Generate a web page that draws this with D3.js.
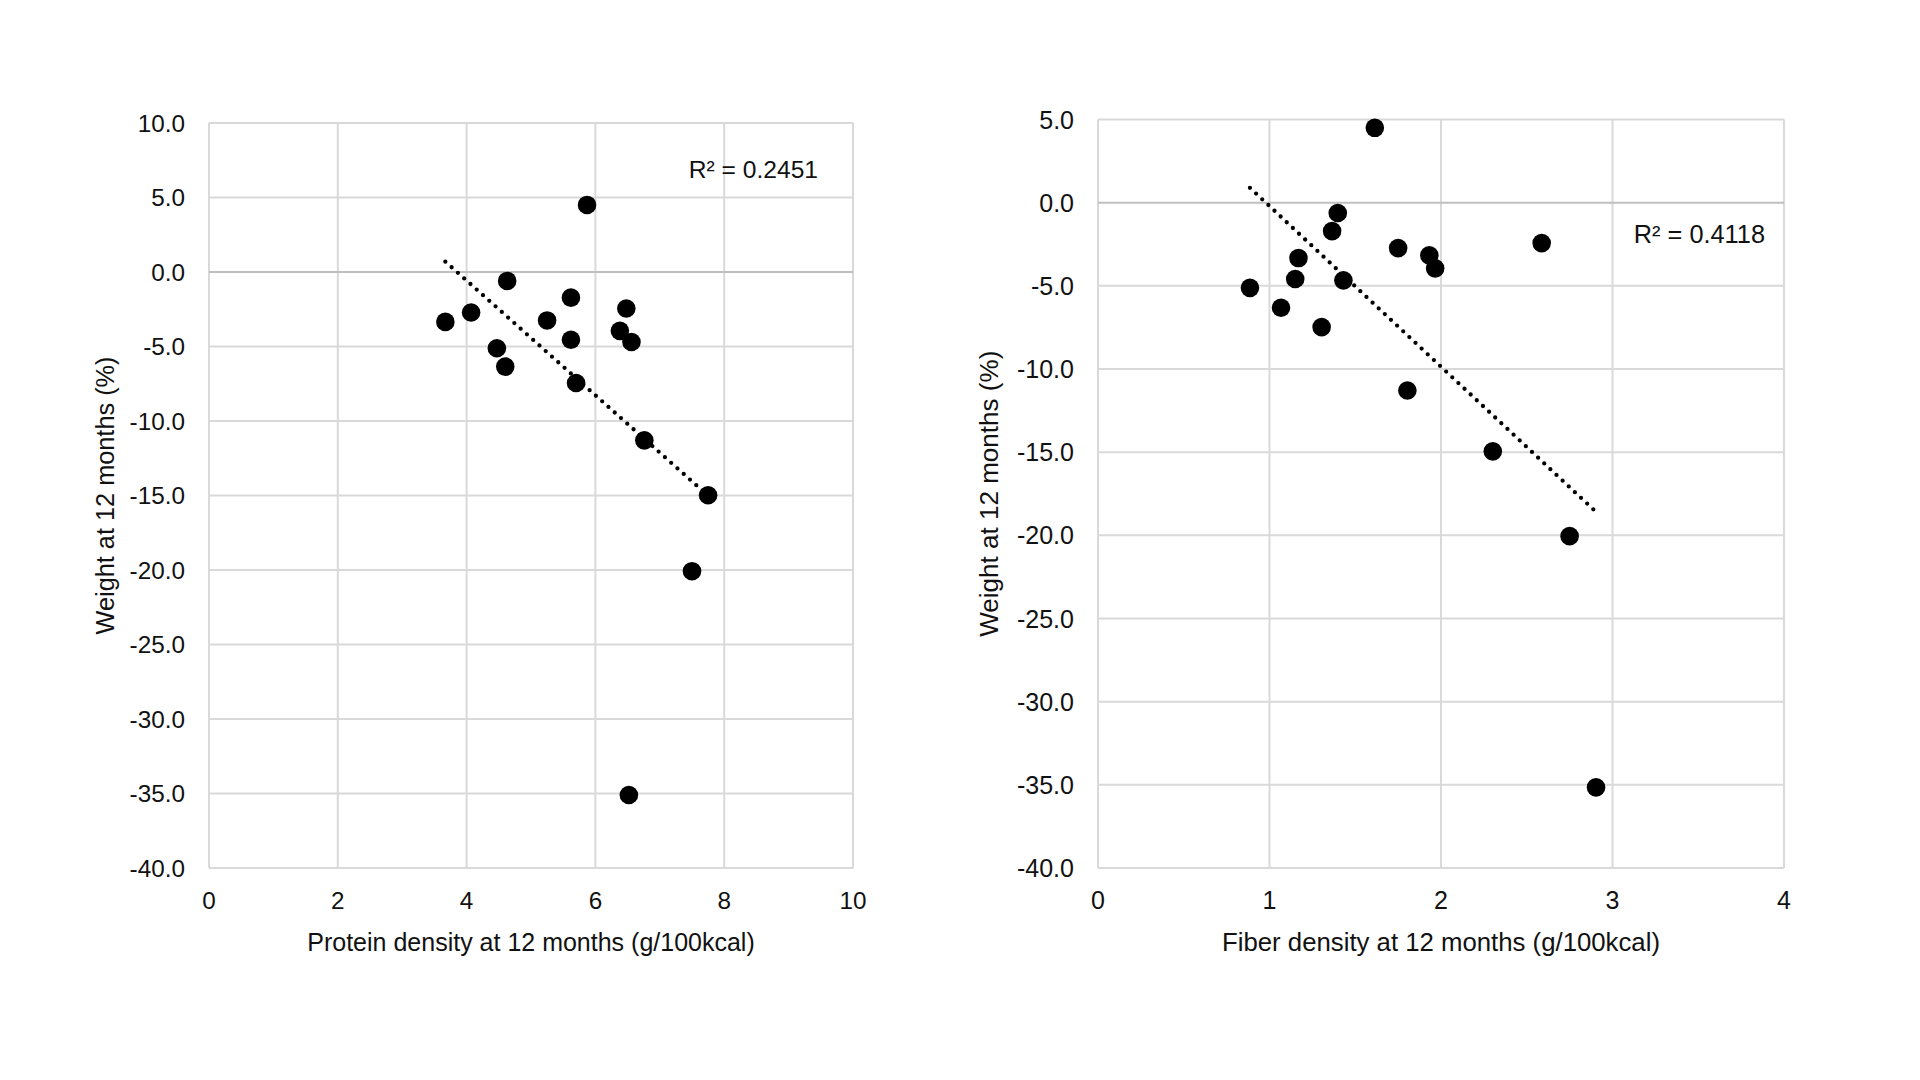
<!DOCTYPE html>
<html><head><meta charset="utf-8">
<script src="https://cdn.jsdelivr.net/npm/d3@7"></script>
<style>body{margin:0;background:#fff;overflow:hidden}</style>
</head><body><svg id="c" width="1920" height="1080"></svg>
<script>
// ---- data ----
const proteinX = [3.67, 4.07, 4.63, 4.47, 4.60, 5.25, 5.62, 5.62, 5.87, 5.70, 6.48, 6.38, 6.56, 6.76, 7.75, 7.50, 6.52];
const proteinY = [-3.35, -2.72, -0.60, -5.12, -6.35, -3.25, -1.72, -4.55, 4.50, -7.45, -2.45, -3.95, -4.70, -11.30, -14.98, -20.08, -35.10];
const fiberX = [0.886, 1.067, 1.150, 1.169, 1.304, 1.365, 1.398, 1.431, 1.614, 1.750, 1.804, 1.932, 1.966, 2.302, 2.587, 2.750, 2.904];
const fiberY = [-5.12, -6.32, -4.59, -3.33, -7.48, -1.71, -0.62, -4.67, 4.50, -2.73, -11.29, -3.17, -3.95, -14.95, -2.43, -20.05, -35.15];
const proteinXTicks = [0, 2, 4, 6, 8, 10];
const proteinYTicks = [10, 5, 0, -5, -10, -15, -20, -25, -30, -35, -40];
const fiberXTicks = [0, 1, 2, 3, 4];
const fiberYTicks = [5, 0, -5, -10, -15, -20, -25, -30, -35, -40];
const yTitle = "Weight at 12 months (%)";
const proteinXTitle = "Protein density at 12 months (g/100kcal)";
const fiberXTitle = "Fiber density at 12 months (g/100kcal)";
const proteinR2 = "R² = 0.2451";
const fiberR2 = "R² = 0.4118";

const svg = d3.select("#c");
const FONT = "'Liberation Sans', Arial, Helvetica, sans-serif";

function drawPanel(p) {
  const x = d3.scaleLinear().domain(d3.extent(p.xTicks)).range([p.left, p.right]);
  const y = d3.scaleLinear().domain(d3.extent(p.yTicks)).range([p.bottom, p.top]);
  const g = svg.append("g");
  const k = p.fontScale;

  // gridlines
  g.selectAll("line.vg").data(p.xTicks).join("line")
    .attr("x1", d => x(d)).attr("x2", d => x(d))
    .attr("y1", p.top).attr("y2", p.bottom)
    .attr("stroke", "#d9d9d9").attr("stroke-width", 2);
  g.selectAll("line.hg").data(p.yTicks).join("line")
    .attr("x1", p.left).attr("x2", p.right)
    .attr("y1", d => y(d)).attr("y2", d => y(d))
    .attr("stroke", d => d === 0 ? "#bfbfbf" : "#d9d9d9").attr("stroke-width", 2);

  // tick labels
  g.selectAll("text.yt").data(p.yTicks).join("text")
    .attr("x", p.left - 24).attr("y", d => y(d)).attr("dy", "0.36em")
    .attr("text-anchor", "end").attr("font-family", FONT).attr("font-size", 24.3 * k).attr("fill", "#111")
    .text(d => d.toFixed(1));
  g.selectAll("text.xt").data(p.xTicks).join("text")
    .attr("x", d => x(d)).attr("y", p.bottom + 41)
    .attr("text-anchor", "middle").attr("font-family", FONT).attr("font-size", 24.3 * k).attr("fill", "#111")
    .text(d => d);

  // axis titles
  g.append("text").attr("x", (p.left + p.right) / 2).attr("y", p.bottom + 83)
    .attr("text-anchor", "middle").attr("font-family", FONT).attr("font-size", 25 * k).attr("fill", "#111")
    .text(p.xTitle);
  g.append("text").attr("transform", `translate(${p.yTitleX},${(p.top + p.bottom) / 2}) rotate(-90)`)
    .attr("dy", "0.36em").attr("text-anchor", "middle").attr("font-family", FONT).attr("font-size", 25.3 * k).attr("fill", "#111")
    .text(yTitle);

  // linear trendline (least squares)
  const n = p.xs.length;
  const mx = d3.mean(p.xs), my = d3.mean(p.ys);
  let sxy = 0, sxx = 0;
  for (let i = 0; i < n; i++) { sxy += (p.xs[i] - mx) * (p.ys[i] - my); sxx += (p.xs[i] - mx) ** 2; }
  const b = sxy / sxx, a = my - b * mx;
  const [xmin, xmax] = d3.extent(p.xs);
  g.append("line")
    .attr("x1", x(xmin)).attr("y1", y(a + b * xmin))
    .attr("x2", x(xmax)).attr("y2", y(a + b * xmax))
    .attr("stroke", "#000").attr("stroke-width", 4.3)
    .attr("stroke-linecap", "round").attr("stroke-dasharray", "0 8.4");

  // points
  g.selectAll("circle").data(p.xs.map((v, i) => [v, p.ys[i]])).join("circle")
    .attr("cx", d => x(d[0])).attr("cy", d => y(d[1])).attr("r", 9.3).attr("fill", "#000");

  // R² label
  g.append("text").attr("x", p.r2X).attr("y", p.r2Y).attr("dy", "0.36em")
    .attr("text-anchor", "end").attr("font-family", FONT).attr("font-size", 24.6 * k).attr("fill", "#111")
    .text(p.r2);
}

drawPanel({ xs: proteinX, ys: proteinY, xTicks: proteinXTicks, yTicks: proteinYTicks,
  left: 209, right: 853, top: 123, bottom: 868, xTitle: proteinXTitle, yTitleX: 105,
  r2: proteinR2, r2X: 818, r2Y: 169, fontScale: 1 });
drawPanel({ xs: fiberX, ys: fiberY, xTicks: fiberXTicks, yTicks: fiberYTicks,
  left: 1098, right: 1784, top: 119.5, bottom: 868, xTitle: fiberXTitle, yTitleX: 989,
  r2: fiberR2, r2X: 1765, r2Y: 234, fontScale: 1.03 });
</script>
</body></html>
